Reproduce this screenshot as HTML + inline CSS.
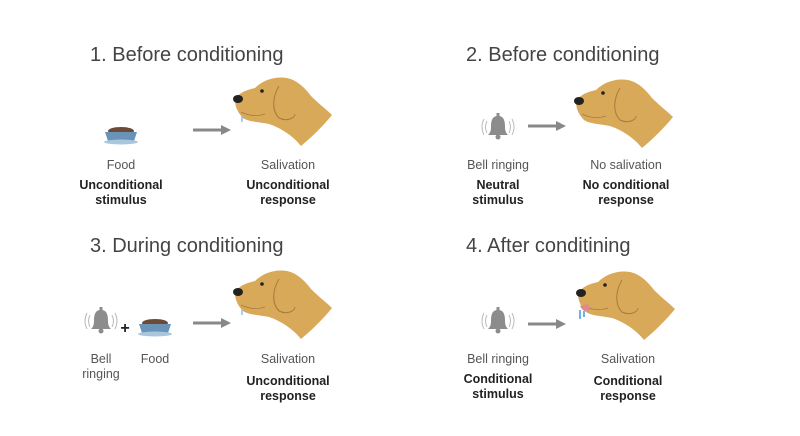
<!DOCTYPE html>
<html><head><style>
body{margin:0;background:#fff;}
svg{display:block}
text{font-family:"Liberation Sans",sans-serif;fill:#333;}
.t{font-size:20px;font-weight:300;fill:#444}
.l{font-size:12.5px;fill:#555;text-anchor:middle}
.b{font-size:12.5px;font-weight:bold;fill:#222;text-anchor:middle}
</style></head><body>
<svg width="800" height="436" viewBox="0 0 800 436">
<defs>
<g id="dog">
<path d="M0,0 C4,-8 12,-10 20,-12 C28,-20 40,-24 52,-22 C62,-20 70,-12 76,-4 C84,4 92,10 97,15 C88,26 78,36 66,46 C58,36 46,28 34,24 C24,22 14,22 8,18 C4,14 0,8 0,0Z" fill="#d9a95a"/>
<path d="M44,-14 C38,-4 36,10 44,18 C52,22 60,18 60,14" fill="none" stroke="#a87a3a" stroke-width="1"/>
<path d="M6,12 Q18,18 30,14" fill="none" stroke="#a87a3a" stroke-width="0.8"/>
<ellipse cx="3" cy="-1" rx="5" ry="4" fill="#222"/>
<circle cx="27" cy="-9" r="1.8" fill="#222"/>
</g>
<g id="bowl">
<ellipse cx="0" cy="-4" rx="13" ry="4" fill="#6b4a3a"/>
<path d="M-16,-3 L16,-3 L13,6 L-13,6Z" fill="#6a93b8"/>
<ellipse cx="0" cy="7" rx="17" ry="2.5" fill="#a9c6df"/>
</g>
<g id="bell">
<path d="M-1.5,-14 L1.5,-14 L1.5,-11 C6,-10 7,-6 7,0 C7,4 8,6 10,8 L-10,8 C-8,6 -7,4 -7,0 C-7,-6 -6,-10 -1.5,-11Z" fill="#8c8c8c"/>
<circle cx="0" cy="10" r="2.5" fill="#8c8c8c"/>
<path d="M-11,-6 Q-14,0 -11,6 M-14,-8 Q-18,0 -14,8 M11,-6 Q14,0 11,6 M14,-8 Q18,0 14,8" fill="none" stroke="#bbb" stroke-width="1"/>
</g>
<g id="arr"><line x1="0" y1="0" x2="30" y2="0" stroke="#888" stroke-width="3"/><path d="M28,-5 L38,0 L28,5Z" fill="#888"/></g>
</defs>

<text class="t" x="90" y="61">1. Before conditioning</text>
<text class="t" x="466" y="61">2. Before conditioning</text>
<text class="t" x="90" y="252">3. During conditioning</text>
<text class="t" x="466" y="252">4. After conditining</text>

<!-- panel 1 -->
<use href="#bowl" x="121" y="135"/>
<use href="#arr" x="193" y="130"/>
<use href="#dog" x="235" y="100"/>
<path d="M242,116 l0,6" stroke="#8fc0e8" stroke-width="1.5"/>
<text class="l" x="121" y="169">Food</text>
<text class="b" x="121" y="189">Unconditional</text>
<text class="b" x="121" y="204">stimulus</text>
<text class="l" x="288" y="169">Salivation</text>
<text class="b" x="288" y="189">Unconditional</text>
<text class="b" x="288" y="204">response</text>

<!-- panel 2 -->
<use href="#bell" x="498" y="127"/>
<use href="#arr" x="528" y="126"/>
<use href="#dog" x="576" y="102"/>
<text class="l" x="498" y="169">Bell ringing</text>
<text class="b" x="498" y="189">Neutral</text>
<text class="b" x="498" y="204">stimulus</text>
<text class="l" x="626" y="169">No salivation</text>
<text class="b" x="626" y="189">No conditional</text>
<text class="b" x="626" y="204">response</text>

<!-- panel 3 -->
<use href="#bell" x="101" y="321"/>
<text x="125" y="333" style="font-size:16px;font-weight:bold;fill:#222;text-anchor:middle">+</text>
<use href="#bowl" x="155" y="327"/>
<use href="#arr" x="193" y="323"/>
<use href="#dog" x="235" y="293"/>
<path d="M242,309 l0,6" stroke="#8fc0e8" stroke-width="1.5"/>
<text class="l" x="101" y="363">Bell</text>
<text class="l" x="101" y="378">ringing</text>
<text class="l" x="155" y="363">Food</text>
<text class="l" x="288" y="363">Salivation</text>
<text class="b" x="288" y="385">Unconditional</text>
<text class="b" x="288" y="400">response</text>

<!-- panel 4 -->
<use href="#bell" x="498" y="321"/>
<use href="#arr" x="528" y="324"/>
<use href="#dog" x="578" y="294"/>
<path d="M580,306 q4,8 10,4 l-2,-6z" fill="#e08a8a"/>
<path d="M580,310 l0,9 M584,311 l0,6" stroke="#6fb2ea" stroke-width="2"/>
<text class="l" x="498" y="363">Bell ringing</text>
<text class="b" x="498" y="383">Conditional</text>
<text class="b" x="498" y="398">stimulus</text>
<text class="l" x="628" y="363">Salivation</text>
<text class="b" x="628" y="385">Conditional</text>
<text class="b" x="628" y="400">response</text>
</svg>
</body></html>
